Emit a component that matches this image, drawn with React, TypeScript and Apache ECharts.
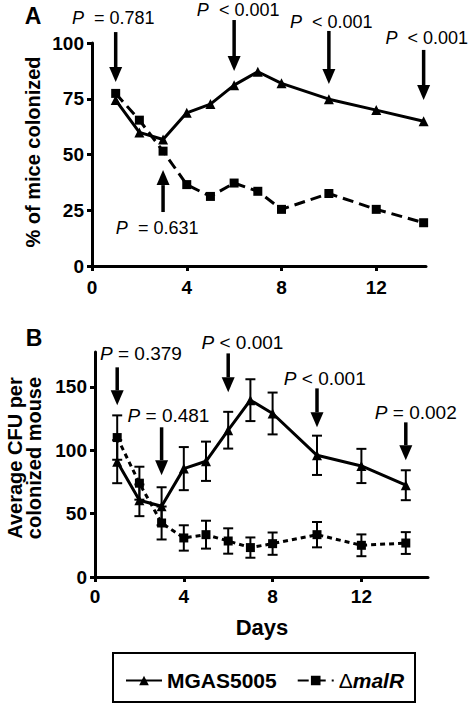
import React, { useEffect, useRef } from "react";
import * as echarts from "echarts";

const FONT = '"Liberation Sans", Arial, Helvetica, sans-serif';

// ---- data ----
const days = [1, 2, 3, 4, 5, 6, 7, 8, 10, 12, 14];
const colonizedWT = [74.4, 59.9, 56.7, 68.7, 72.6, 81.1, 87.1, 81.9, 74.8, 69.9, 64.9];
const colonizedMalR = [77.4, 65.4, 51.5, 36.5, 31.2, 37.2, 33.5, 25.4, 32.5, 25.4, 19.4];
const cfuWT = [91, 60.5, 55.8, 85.5, 91.3, 115.8, 139.5, 129, 96, 87.6, 72.4];
const cfuWTErr = [17, 12.5, 15, 17, 15.5, 14.5, 16.5, 16.5, 15.5, 13.5, 11.8];
const cfuMalR = [110, 74, 42.6, 30.8, 33.4, 28.4, 23.2, 26.3, 33.4, 25, 26.8];
const cfuMalRErr = [17.5, 13, 13, 10, 11, 10, 8, 8.8, 10, 8.6, 8.6];

const xTicks = [0, 4, 8, 12];
const yTicksA = [0, 25, 50, 75, 100];
const yTicksB = [0, 50, 100, 150];

const seriesNames = ["MGAS5005", "ΔmalR"];

const pTextsA = ["  = 0.781", "  = 0.631", "  < 0.001", "  < 0.001", "  < 0.001"];
const pTextsB = [" = 0.379", " = 0.481", " < 0.001", " < 0.001", " = 0.002"];

// ---- annotation layout (in axis units) ----
const arrowsA = [
  { day: 1, textX: 0.9, textY: 111.2, tail: 104.9, tip: 82.5 },
  { day: 3, textX: 2.75, textY: 17, tail: 24.2, tip: 43 },
  { day: 6, textX: 6.17, textY: 114.6, tail: 110.3, tip: 87.4 },
  { day: 10, textX: 10.1, textY: 109.4, tail: 105.4, tip: 81.6 },
  { day: 14, textX: 14.13, textY: 102.2, tail: 96.9, tip: 74.4 },
];
const arrowsB = [
  { day: 1, textX: 2.07, textY: 176.4, tail: 165.4, tip: 135.4 },
  { day: 3, textX: 3.31, textY: 127.6, tail: 118.1, tip: 80.3 },
  { day: 6, textX: 6.64, textY: 185, tail: 176.4, tip: 145.7 },
  { day: 10, textX: 10.35, textY: 156.7, tail: 148.8, tip: 118.1 },
  { day: 14, textX: 14.45, textY: 129.9, tail: 122, tip: 92.1 },
];

const axisLabelStyle = {
  color: "#000",
  fontFamily: FONT,
  fontWeight: "bold" as const,
  fontSize: 19,
};

function makeX(gridIndex: number, max: number, margin: number) {
  return {
    type: "value",
    gridIndex,
    min: 0,
    max,
    interval: 4,
    splitLine: { show: false },
    axisLine: { lineStyle: { color: "#000", width: 3 } },
    axisTick: { customValues: xTicks, length: 5, lineStyle: { color: "#000", width: 3 } },
    axisLabel: { ...axisLabelStyle, customValues: xTicks, margin },
  };
}

function makeY(gridIndex: number, max: number, interval: number, ticks: number[]) {
  return {
    type: "value",
    gridIndex,
    min: 0,
    max,
    interval,
    splitLine: { show: false },
    axisLine: { lineStyle: { color: "#000", width: 3 } },
    axisTick: { customValues: ticks, length: 5, lineStyle: { color: "#000", width: 3 } },
    axisLabel: { ...axisLabelStyle, customValues: ticks, margin: 8 },
  };
}

function errorRender(params: any, api: any) {
  const x = api.value(0);
  const lo = api.value(1);
  const hi = api.value(2);
  const p1 = api.coord([x, hi]);
  const p2 = api.coord([x, lo]);
  const w = 5;
  const st = { stroke: "#000", lineWidth: 2 };
  return {
    type: "group",
    children: [
      { type: "line", shape: { x1: p1[0], y1: p1[1], x2: p2[0], y2: p2[1] }, style: st },
      { type: "line", shape: { x1: p1[0] - w, y1: p1[1], x2: p1[0] + w, y2: p1[1] }, style: st },
      { type: "line", shape: { x1: p2[0] - w, y1: p2[1], x2: p2[0] + w, y2: p2[1] }, style: st },
    ],
  };
}

function lineSeries(name: string, xi: number, values: number[], dashed: number[] | null) {
  const isWT = name === seriesNames[0];
  return {
    type: "line",
    name,
    xAxisIndex: xi,
    yAxisIndex: xi,
    data: days.map((d, i) => [d, values[i]]),
    symbol: isWT ? "triangle" : "rect",
    symbolSize: isWT ? 10 : 9,
    itemStyle: { color: "#000" },
    lineStyle: { color: "#000", width: 3, type: dashed ? dashed : "solid" },
    z: 3,
  };
}

export default function App() {
  const ref = useRef<HTMLDivElement>(null);

  useEffect(() => {
    if (!ref.current) return;
    const chart = echarts.init(ref.current, null, { renderer: "svg" });
    const option: any = {
      animation: false,
      backgroundColor: "#fff",
      grid: [
        { left: 92, top: 43, width: 334, height: 223 },
        { left: 95, top: 352, width: 333, height: 225 },
      ],
      xAxis: [makeX(0, 14.1, 12), makeX(1, 15, 10)],
      yAxis: [makeY(0, 100, 25, yTicksA), makeY(1, 177.5, 50, yTicksB)],
      legend: {
        data: seriesNames,
        left: 125,
        top: 670,
        padding: 0,
        itemWidth: 36,
        itemHeight: 12,
        itemGap: 20,
        textStyle: {
          color: "#000",
          fontFamily: FONT,
          fontWeight: "bold",
          fontSize: 21,
          rich: {
            d: { fontFamily: FONT, fontSize: 21, fontWeight: "normal", color: "#000" },
            m: { fontFamily: FONT, fontSize: 21, fontWeight: "bold", fontStyle: "italic", color: "#000" },
          },
        },
        formatter: (n: string) => (n === seriesNames[1] ? "{d|Δ}{m|malR}" : n),
      },
      series: [
        lineSeries(seriesNames[0], 0, colonizedWT, null),
        lineSeries(seriesNames[1], 0, colonizedMalR, [11, 6]),
        {
          type: "custom",
          name: "errWT",
          xAxisIndex: 1,
          yAxisIndex: 1,
          renderItem: errorRender,
          encode: { x: 0, y: [1, 2] },
          data: days.map((d, i) => [d, cfuWT[i] - cfuWTErr[i], cfuWT[i] + cfuWTErr[i]]),
          z: 2,
        },
        {
          type: "custom",
          name: "errMalR",
          xAxisIndex: 1,
          yAxisIndex: 1,
          renderItem: errorRender,
          encode: { x: 0, y: [1, 2] },
          data: days.map((d, i) => [d, cfuMalR[i] - cfuMalRErr[i], cfuMalR[i] + cfuMalRErr[i]]),
          z: 2,
        },
        lineSeries(seriesNames[0], 1, cfuWT, null),
        lineSeries(seriesNames[1], 1, cfuMalR, [5, 4]),
      ],
    };
    chart.setOption(option);

    const graphics: any[] = [];
    const addArrows = (gridIndex: number, arr: any[], texts: string[], fs: number) => {
      arr.forEach((a, k) => {
        const tail = chart.convertToPixel({ gridIndex } as any, [a.day, a.tail]) as number[];
        const tip = chart.convertToPixel({ gridIndex } as any, [a.day, a.tip]) as number[];
        const tp = chart.convertToPixel({ gridIndex } as any, [a.textX, a.textY]) as number[];
        const dir = tip[1] > tail[1] ? 1 : -1;
        const headLen = 15;
        const headHalf = 6.5;
        const baseY = tip[1] - dir * headLen;
        graphics.push({
          type: "line",
          shape: { x1: tail[0], y1: tail[1], x2: tip[0], y2: baseY },
          style: { stroke: "#000", lineWidth: 3.5 },
          z: 10,
        });
        graphics.push({
          type: "polygon",
          shape: {
            points: [
              [tip[0], tip[1]],
              [tip[0] - headHalf, baseY],
              [tip[0] + headHalf, baseY],
            ],
          },
          style: { fill: "#000" },
          z: 10,
        });
        graphics.push({
          type: "text",
          x: tp[0],
          y: tp[1],
          z: 10,
          style: {
            text: "{i|P}" + texts[k],
            fontFamily: FONT,
            fontSize: fs,
            fill: "#000",
            align: "center",
            verticalAlign: "middle",
            rich: {
              i: { fontFamily: FONT, fontSize: fs, fontStyle: "italic", fill: "#000" },
            },
          },
        });
      });
    };
    addArrows(0, arrowsA, pTextsA, 18);
    addArrows(1, arrowsB, pTextsB, 19);

    const titleStyle = { fontFamily: FONT, fontWeight: "bold", fill: "#000" };
    graphics.push(
      { type: "text", x: 33, y: 16, style: { ...titleStyle, text: "A", fontSize: 23, align: "center", verticalAlign: "middle" } },
      { type: "text", x: 34, y: 338, style: { ...titleStyle, text: "B", fontSize: 23, align: "center", verticalAlign: "middle" } },
      {
        type: "text",
        x: 33,
        y: 152,
        rotation: Math.PI / 2,
        style: { ...titleStyle, text: "% of mice colonized", fontSize: 20, align: "center", verticalAlign: "middle" },
      },
      {
        type: "text",
        x: 24,
        y: 458,
        rotation: Math.PI / 2,
        style: {
          ...titleStyle,
          text: "Average CFU per\ncolonized mouse",
          fontSize: 20,
          lineHeight: 19,
          align: "center",
          verticalAlign: "middle",
        },
      },
      { type: "text", x: 262, y: 627, style: { ...titleStyle, text: "Days", fontSize: 22, align: "center", verticalAlign: "middle" } },
      {
        type: "rect",
        shape: { x: 113, y: 653, width: 302, height: 49 },
        style: { fill: "none", stroke: "#000", lineWidth: 2 },
      }
    );
    chart.setOption({ graphic: graphics });

    return () => chart.dispose();
  }, []);

  return (
    <div
      ref={ref}
      style={{ position: "fixed", left: 0, top: 0, width: 468, height: 705, background: "#fff" }}
    />
  );
}
